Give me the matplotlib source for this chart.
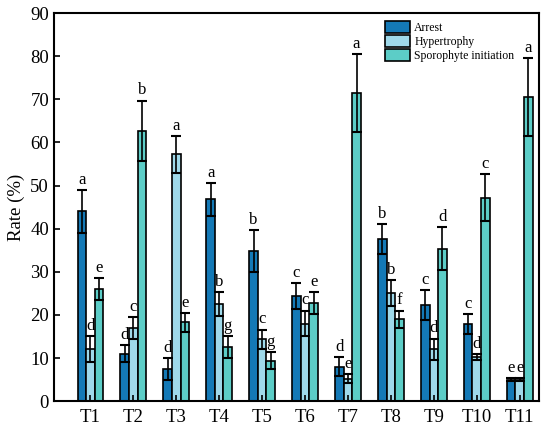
import numpy as np
from matplotlib import pyplot as plt

treatments = ['T1', 'T2', 'T3', 'T4', 'T5', 'T6', 'T7', 'T8', 'T9', 'T10', 'T11']

arrest = [44.0, 11.0, 7.5, 46.8, 34.8, 24.4, 8.0, 37.6, 22.3, 17.8, 5.0]
arrest_err = [5.0, 2.0, 2.5, 3.8, 4.8, 3.0, 2.2, 3.5, 3.5, 2.3, 0.3]
arrest_lab = ['a', 'd', 'd', 'a', 'b', 'c', 'd', 'b', 'c', 'c', 'e']

hyper = [12.0, 17.0, 57.2, 22.5, 14.3, 18.0, 5.2, 25.0, 12.0, 10.3, 5.0]
hyper_err = [3.0, 2.5, 4.3, 2.7, 2.3, 3.0, 1.0, 3.0, 2.5, 0.7, 0.3]
hyper_lab = ['d', 'c', 'a', 'b', 'c', 'c', 'e', 'b', 'd', 'd', 'e']

sporo = [26.0, 62.7, 18.3, 12.5, 9.4, 22.7, 71.4, 19.0, 35.3, 47.2, 70.5]
sporo_err = [2.5, 7.0, 2.2, 2.5, 2.0, 2.5, 9.0, 2.0, 5.0, 5.5, 9.0]
sporo_lab = ['e', 'b', 'e', 'g', 'g', 'e', 'a', 'f', 'd', 'c', 'a']

plt.rcParams['font.family'] = ['Liberation Serif', 'DejaVu Serif']

fig = plt.figure(figsize=(5.5, 4.36), dpi=100)
ax1 = fig.add_axes([0.098, 0.080, 0.882, 0.890])

x = np.arange(len(treatments))
w = 0.2
series = [
    (arrest, arrest_err, arrest_lab, '#1479b6', 'Arrest', -w),
    (hyper, hyper_err, hyper_lab, '#9fd9ea', 'Hypertrophy', 0),
    (sporo, sporo_err, sporo_lab, '#5ccdc7', 'Sporophyte initiation', w),
]

for vals, errs, labs, col, name, off in series:
    ax1.bar(x + off, vals, w, color=col, edgecolor='black', linewidth=1.2, label=name,
            yerr=errs, error_kw=dict(ecolor='black', elinewidth=1.2, capsize=3.5, capthick=1.5))
    for xi, v, e, l in zip(x + off, vals, errs, labs):
        ax1.text(xi, v + e + 0.5, l, ha='center', va='bottom', fontsize=12)

ax1.set_xlim(-0.85, 10.45)
ax1.set_ylim(0, 90)
ax1.set_yticks(np.arange(0, 91, 10))
ax1.set_xticks(x)
ax1.set_xticklabels(treatments)
ax1.tick_params(direction='in', labelsize=13.5, width=1.2, length=4)
ax1.tick_params(axis='x', pad=6)
for s in ax1.spines.values():
    s.set_linewidth(1.5)
plt.ylabel('Rate (%)', fontsize=13.5)

ax1.legend(loc='upper right', bbox_to_anchor=(0.966, 1.0), frameon=False, fontsize=8.5,
           handlelength=2.1, handleheight=1.2, labelspacing=0.05, handletextpad=0.35,
           borderaxespad=0.3)

plt.savefig('out.png', dpi=100)
